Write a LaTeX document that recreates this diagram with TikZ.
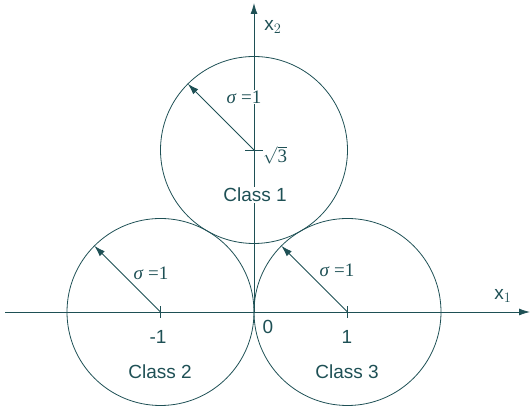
\documentclass[tikz,border=0pt]{standalone}
\usepackage{fontspec}
\setmainfont{Liberation Sans}
\newfontfamily\serifa{Liberation Serif}
\usetikzlibrary{arrows.meta}
\definecolor{ink}{RGB}{30,80,85}
\tikzset{
  line/.style={draw=ink, line width=0.8pt},
  arr/.style={line, -{Latex[length=11pt,width=7pt]}},
  lbl/.style={text=ink, font=\fontsize{19}{21}\selectfont, inner sep=1pt},
  sig/.style={text=ink, font=\serifa\fontsize{19}{21}\selectfont, inner sep=1pt, fill=white},
}
\begin{document}
\begin{tikzpicture}[x=1pt,y=1pt]
\useasboundingbox (0,0) rectangle (531,409);
\def\u{93.5}
\coordinate (O) at (254,97);
\coordinate (C1) at (254,259);
\coordinate (C2) at (160.5,97);
\coordinate (C3) at (347.5,97);
\coordinate (xs) at (5,97);
\coordinate (xe) at (530,97);
\coordinate (ye) at (254,406);
% circles
\draw[line] (C1) circle (\u);
\draw[line] (C2) circle (\u);
\draw[line] (C3) circle (\u);
% axes
\draw[arr] (xs) -- (xe);
\draw[arr] (O) -- (ye);
% ticks
\draw[line] ([yshift=-6pt]C2) -- ([yshift=6pt]C2);
\draw[line] ([yshift=-6pt]C3) -- ([yshift=6pt]C3);
\draw[line] ([xshift=-9pt]C1) -- ([xshift=9pt]C1);
% radius arrows
\coordinate (r1) at ([shift={(135:\u)}]C1);
\coordinate (r2) at ([shift={(135:\u)}]C2);
\coordinate (r3) at ([shift={(135:\u)}]C3);
\draw[arr] (C1) -- (r1);
\draw[arr] (C2) -- (r2);
\draw[arr] (C3) -- (r3);
% labels
\node[sig] (s1) at (244,312) {\itshape σ\hspace{5pt}\upshape =1};
\node[sig] (s2) at (151,136) {\itshape σ\hspace{5pt}\upshape =1};
\node[sig] (s3) at (337,139) {\itshape σ\hspace{5pt}\upshape =1};
\node[sig, anchor=west, fill=none] (sq) at (262,254) {$\sqrt{\mbox{\serifa 3}}$};
\node[lbl, fill=white] (k1) at (255,214) {Class 1};
\node[lbl] (k2) at (160,37) {Class 2};
\node[lbl] (k3) at (347,37) {Class 3};
\node[lbl] (m1) at (158,72) {-1};
\node[lbl] (p1) at (347,72) {1};
\node[lbl] (z0) at (268,82) {0};
\node[lbl] (x1) at (503,113) {x$_1$};
\node[lbl] (x2) at (273,382) {x$_2$};
\end{tikzpicture}
\end{document}
